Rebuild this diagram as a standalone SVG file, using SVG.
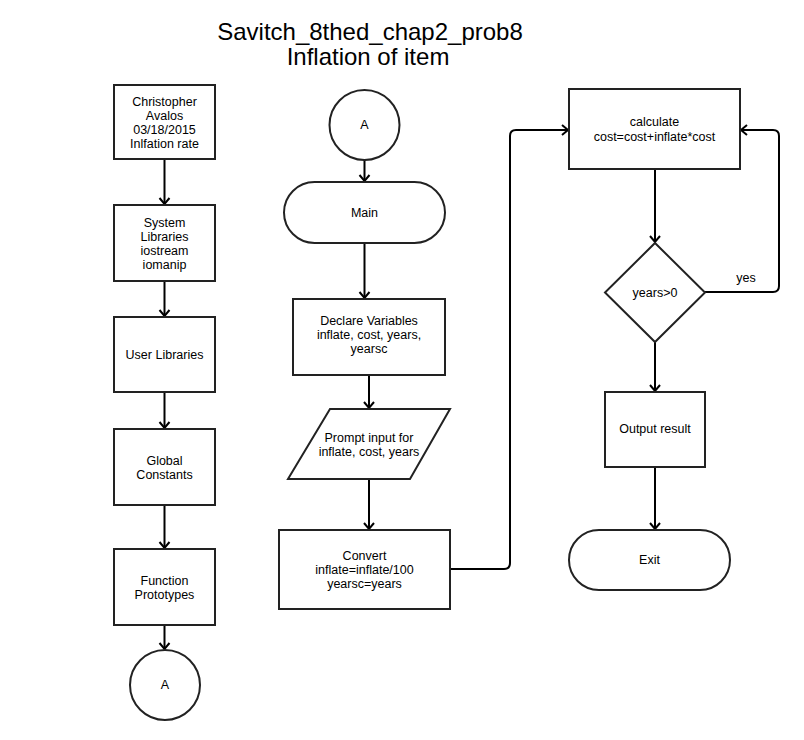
<svg xmlns="http://www.w3.org/2000/svg" width="804" height="740" viewBox="0 0 804 740">
<defs>
<marker id="arr" markerUnits="userSpaceOnUse" markerWidth="14" markerHeight="14" viewBox="-8 -7 10 14" refX="0" refY="0" orient="auto">
<path d="M-6,-5 L0,0 L-6,5" fill="none" stroke="#000" stroke-width="2"/>
</marker>
<style>
.n{fill:#fff;stroke:#222;stroke-width:2}
.t{font-family:"Liberation Sans",Arial,sans-serif;font-size:12.5px;fill:#000;text-anchor:middle}
.ti{font-family:"Liberation Sans",Arial,sans-serif;font-size:24px;fill:#000;text-anchor:middle}
.c{fill:none;stroke:#000;stroke-width:2;marker-end:url(#arr)}
.l{fill:none;stroke:#000;stroke-width:2}
</style>
</defs>
<rect width="804" height="740" fill="#fff"/>
<g id="title">
<text class="ti" x="370" y="40">Savitch_8thed_chap2_prob8</text>
<text class="ti" x="368" y="65">Inflation of item</text>
</g>
<g id="connectors">
<path class="c" d="M164.5,159 L164.5,204"/>
<path class="c" d="M164.5,281 L164.5,316"/>
<path class="c" d="M164.5,392 L164.5,428"/>
<path class="c" d="M164.5,505 L164.5,548"/>
<path class="c" d="M164.5,625 L164.5,649"/>
<path class="c" d="M364.5,160 L364.5,181"/>
<path class="c" d="M364.5,243 L364.5,298"/>
<path class="c" d="M369,375 L369,408"/>
<path class="c" d="M369,479 L369,529"/>
<path class="c" d="M450,569 L504,569 Q510,569 510,563 L510,136 Q510,130 516,130 L568,130"/>
<path class="c" d="M655,169 L655,242"/>
<path class="c" d="M705,292 L773,292 Q779,292 779,286 L779,136 Q779,130 773,130 L741,130"/>
<path class="c" d="M655,342 L655,391"/>
<path class="c" d="M655,467 L655,529"/>
<text class="t" x="746" y="282">yes</text>
</g>
<g id="n_author">
<rect class="n" x="114" y="85" width="101" height="74"/>
<text class="t" x="164.5" y="106">Christopher</text>
<text class="t" x="164.5" y="120">Avalos</text>
<text class="t" x="164.5" y="134">03/18/2015</text>
<text class="t" x="164.5" y="148">Inlfation rate</text>
</g>
<g id="n_syslib">
<rect class="n" x="114" y="205" width="101" height="76"/>
<text class="t" x="164.5" y="227">System</text>
<text class="t" x="164.5" y="241">Libraries</text>
<text class="t" x="164.5" y="255">iostream</text>
<text class="t" x="164.5" y="269">iomanip</text>
</g>
<g id="n_userlib">
<rect class="n" x="114" y="317" width="101" height="75"/>
<text class="t" x="164.5" y="359">User Libraries</text>
</g>
<g id="n_global">
<rect class="n" x="114" y="429" width="101" height="76"/>
<text class="t" x="164.5" y="465">Global</text>
<text class="t" x="164.5" y="479">Constants</text>
</g>
<g id="n_proto">
<rect class="n" x="114" y="549" width="101" height="76"/>
<text class="t" x="164.5" y="585">Function</text>
<text class="t" x="164.5" y="599">Prototypes</text>
</g>
<g id="n_a1">
<circle class="n" cx="165" cy="685" r="35"/>
<text class="t" x="165" y="689">A</text>
</g>
<g id="n_a2">
<circle class="n" cx="364.5" cy="125" r="35"/>
<text class="t" x="364.5" y="129">A</text>
</g>
<g id="n_main">
<rect class="n" x="284" y="182" width="161" height="61" rx="30.5"/>
<text class="t" x="364.5" y="217">Main</text>
</g>
<g id="n_declare">
<rect class="n" x="293" y="299" width="152" height="76"/>
<text class="t" x="369" y="325">Declare Variables</text>
<text class="t" x="369" y="339">inflate, cost, years,</text>
<text class="t" x="369" y="353">yearsc</text>
</g>
<g id="n_prompt">
<polygon class="n" points="330,409 450,409 410,479 288,479"/>
<text class="t" x="369" y="442">Prompt input for</text>
<text class="t" x="369" y="456">inflate, cost, years</text>
</g>
<g id="n_convert">
<rect class="n" x="279" y="530" width="171" height="79"/>
<text class="t" x="364.5" y="560">Convert</text>
<text class="t" x="364.5" y="574">inflate=inflate/100</text>
<text class="t" x="364.5" y="588">yearsc=years</text>
</g>
<g id="n_calc">
<rect class="n" x="569" y="89" width="171" height="80"/>
<text class="t" x="654.5" y="126">calculate</text>
<text class="t" x="654.5" y="141">cost=cost+inflate*cost</text>
</g>
<g id="n_decision">
<polygon class="n" points="655,243 705,292.5 655,342 605,292.5"/>
<text class="t" x="655" y="297">years&gt;0</text>
</g>
<g id="n_output">
<rect class="n" x="605" y="392" width="100" height="75"/>
<text class="t" x="655" y="433">Output result</text>
</g>
<g id="n_exit">
<rect class="n" x="569" y="530" width="161" height="60" rx="30"/>
<text class="t" x="649.5" y="564">Exit</text>
</g>
</svg>
